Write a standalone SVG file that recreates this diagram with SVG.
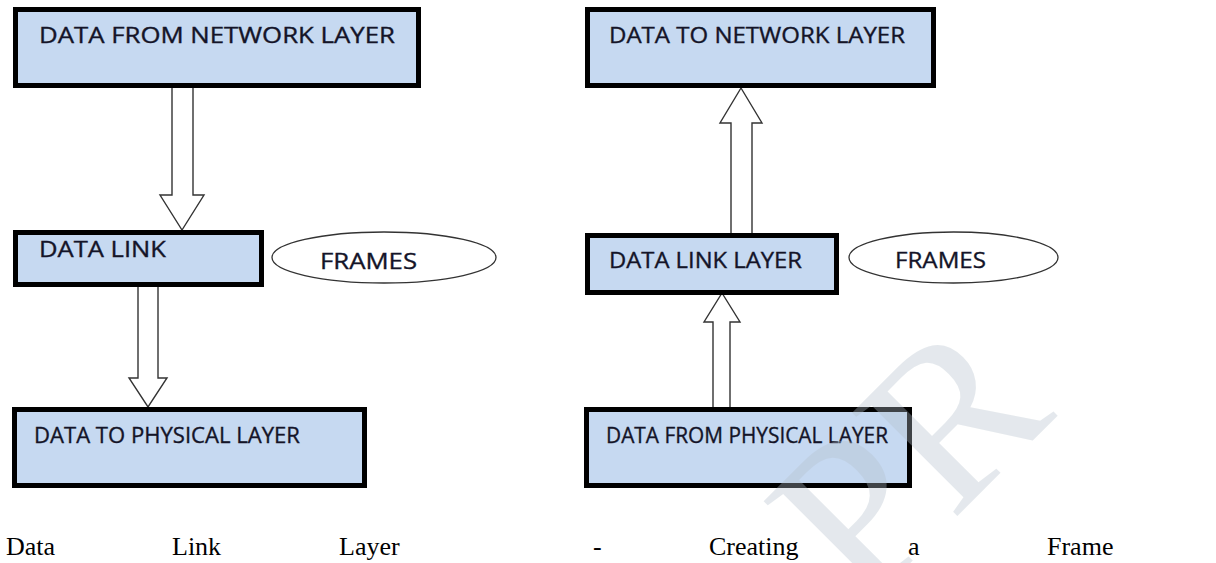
<svg xmlns="http://www.w3.org/2000/svg" width="1216" height="563" viewBox="0 0 1216 563">
  <style>
    .box { fill: #c6d9f1; stroke: #000; stroke-width: 5; }
    .lbl { font-family: "Open Sans", "Liberation Sans", sans-serif; font-size: 22px; fill: #141428; stroke: #141428; stroke-width: 0.35; }
    .oval { fill: #fff; stroke: #333; stroke-width: 1.3; }
    .arrow { fill: #fff; stroke: #333; stroke-width: 1.4; stroke-linejoin: miter; }
    .cap { font-family: "Liberation Serif", "Times New Roman", serif; font-size: 26px; fill: #000; }
    .mark { font-family: "Liberation Serif", serif; font-size: 225px; fill: #b4c0cc; opacity: 0.35; }
  </style>

  <rect width="1216" height="563" fill="#fff"/>

  <!-- block arrows between the layers -->
  <g id="connectors">
    <polygon class="arrow" points="172,86 193,86 193,195 204,195 182,230 160,195 172,195"/>
    <polygon class="arrow" points="138,285 158,285 158,378 167,378 148,407 129,378 138,378"/>
    <polygon class="arrow" points="741,88 762,123 752,123 752,235 731,235 731,123 720,123"/>
    <polygon class="arrow" points="722,293 740,322 730,322 730,409 713,409 713,322 704,322"/>
  </g>

  <!-- sending side -->
  <g id="net-from">
    <rect class="box" x="15.5" y="9.5" width="403" height="76"/>
    <text class="lbl" x="39" y="43" textLength="356" lengthAdjust="spacingAndGlyphs">DATA FROM NETWORK LAYER</text>
  </g>
  <g id="dll-send">
    <rect class="box" x="15.5" y="232.5" width="246" height="52"/>
    <text class="lbl" x="39" y="257" textLength="127" lengthAdjust="spacingAndGlyphs">DATA LINK</text>
  </g>
  <g id="frames-send">
    <ellipse class="oval" cx="384" cy="257.5" rx="112" ry="25.5"/>
    <text class="lbl" x="320" y="269" textLength="97" lengthAdjust="spacingAndGlyphs">FRAMES</text>
  </g>
  <g id="phys-to">
    <rect class="box" x="14.5" y="409.5" width="350" height="76"/>
    <text class="lbl" x="34" y="443" textLength="266" lengthAdjust="spacingAndGlyphs">DATA TO PHYSICAL LAYER</text>
  </g>

  <!-- receiving side -->
  <g id="net-to">
    <rect class="box" x="587.5" y="9.5" width="346" height="76"/>
    <text class="lbl" x="609" y="43" textLength="296" lengthAdjust="spacingAndGlyphs">DATA TO NETWORK LAYER</text>
  </g>
  <g id="dll-recv">
    <rect class="box" x="587.5" y="235.5" width="249" height="57"/>
    <text class="lbl" x="609" y="268" textLength="193" lengthAdjust="spacingAndGlyphs">DATA LINK LAYER</text>
  </g>
  <g id="frames-recv">
    <ellipse class="oval" cx="953.5" cy="257.5" rx="104.5" ry="25.5"/>
    <text class="lbl" x="895" y="268" textLength="91" lengthAdjust="spacingAndGlyphs">FRAMES</text>
  </g>
  <g id="phys-from">
    <rect class="box" x="586.5" y="409.5" width="323" height="76"/>
    <text class="lbl" x="606" y="443" textLength="282" lengthAdjust="spacingAndGlyphs">DATA FROM PHYSICAL LAYER</text>
  </g>

  <!-- caption, justified across the line -->
  <g id="caption" class="cap">
    <text x="6" y="555">Data</text>
    <text x="172" y="555">Link</text>
    <text x="339" y="555">Layer</text>
    <text x="593" y="555">-</text>
    <text x="709" y="555">Creating</text>
    <text x="908" y="555">a</text>
    <text x="1047" y="555">Frame</text>
  </g>

  <!-- faint diagonal stamp -->
  <text class="mark" transform="translate(905 465) rotate(-45)" x="-132" y="73">PR</text>
</svg>
